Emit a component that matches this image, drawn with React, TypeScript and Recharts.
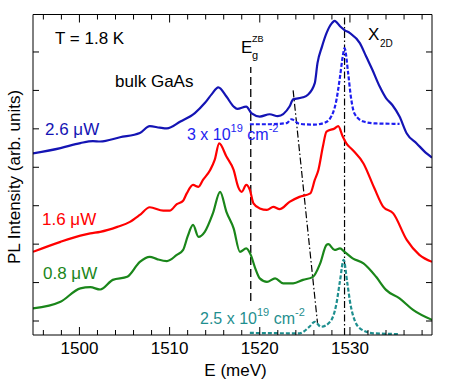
import { LineChart, Line, XAxis, YAxis, ReferenceLine } from 'recharts'

const FONT = '"Liberation Sans", Arial, Helvetica, sans-serif'

// photon energy (meV) and PL intensity (arb. units, spectra offset vertically)
const blueE = [1494.85, 1497.9, 1500.1, 1501.5, 1502.3, 1504.5, 1506.7, 1507.8, 1508.9, 1509.7, 1511.2, 1512.8, 1513.9, 1514.7, 1515.4, 1516.3, 1517.1, 1517.5, 1518.5, 1519.1, 1520.0, 1521.1, 1522.0, 1523.3, 1523.7, 1524.8, 1525.3, 1526.1, 1526.4, 1526.9, 1527.4, 1528.0, 1528.3, 1528.9, 1529.4, 1530.0, 1531.1, 1531.8, 1532.5, 1533.3, 1534.0, 1534.7, 1535.5, 1536.3, 1537.4, 1538.5, 1539.1]
const blueI = [4.36, 4.5, 4.63, 4.68, 4.67, 4.78, 4.89, 5.07, 5.03, 5.01, 5.19, 5.41, 5.67, 5.91, 6.08, 5.84, 5.58, 5.52, 5.58, 5.4, 5.32, 5.38, 5.33, 5.58, 5.77, 5.82, 5.88, 6.19, 6.71, 7.14, 7.49, 7.75, 7.81, 7.67, 7.57, 7.49, 7.23, 6.88, 6.53, 6.1, 5.8, 5.62, 5.32, 4.88, 4.62, 4.36, 4.25]

const blueDotE = [1518.9, 1521.1, 1523.0, 1523.5, 1524.4, 1526.1, 1527.2, 1527.8, 1528.5, 1528.9, 1529.2, 1529.4, 1529.8, 1530.1, 1530.5, 1531.5, 1532.9, 1535.5]
const blueDotI = [5.12, 5.12, 5.15, 5.25, 5.13, 5.11, 5.16, 5.27, 5.75, 6.36, 6.88, 7.1, 6.45, 5.84, 5.4, 5.19, 5.14, 5.13]

const redE = [1494.85, 1497.9, 1500.1, 1501.2, 1502.3, 1504.2, 1505.6, 1506.7, 1507.8, 1509.3, 1510.0, 1510.8, 1511.5, 1511.9, 1512.6, 1513.2, 1513.7, 1514.5, 1515.0, 1515.5, 1516.3, 1517.1, 1517.6, 1518.0, 1518.5, 1518.9, 1519.3, 1520.0, 1520.8, 1521.5, 1522.2, 1523.3, 1524.4, 1525.6, 1526.1, 1526.5, 1527.0, 1527.4, 1528.3, 1528.7, 1529.2, 1529.6, 1530.3, 1531.5, 1532.7, 1533.7, 1534.8, 1536.3, 1537.7, 1539.1]
const redI = [1.8, 2.06, 2.22, 2.28, 2.32, 2.45, 2.58, 2.76, 2.96, 2.87, 2.87, 3.04, 3.13, 3.32, 3.54, 3.49, 3.67, 3.93, 4.19, 4.62, 4.28, 3.93, 3.49, 3.36, 3.54, 3.41, 3.06, 2.93, 2.89, 2.97, 2.91, 3.1, 3.23, 3.32, 3.67, 3.93, 4.54, 4.93, 5.01, 5.07, 4.8, 4.62, 4.45, 4.1, 3.46, 2.97, 2.8, 2.11, 1.72, 1.54]

const greenE = [1494.85, 1497.9, 1500.1, 1501.2, 1502.3, 1503.7, 1505.3, 1506.7, 1507.8, 1508.6, 1509.7, 1510.8, 1511.5, 1512.0, 1512.6, 1513.2, 1513.9, 1514.8, 1515.6, 1516.3, 1517.1, 1517.8, 1518.5, 1519.0, 1519.5, 1520.0, 1520.8, 1521.7, 1522.6, 1523.7, 1524.8, 1525.9, 1526.7, 1527.4, 1527.6, 1528.3, 1528.9, 1529.4, 1530.3, 1531.5, 1532.9, 1534.0, 1535.5, 1537.0, 1539.1]
const greenI = [0.33, 0.5, 0.85, 0.88, 0.82, 1.07, 1.15, 1.54, 1.67, 1.61, 1.56, 1.72, 1.85, 2.2, 2.5, 2.19, 2.32, 2.8, 3.36, 2.84, 2.41, 1.8, 1.89, 1.72, 1.37, 1.11, 1.02, 1.11, 0.98, 0.98, 1.07, 1.15, 1.5, 1.98, 2.0, 1.85, 1.89, 1.8, 1.63, 1.5, 1.15, 0.81, 0.59, 0.29, 0.03]

const tealE = [1518.9, 1524.4, 1525.5, 1526.1, 1526.8, 1527.8, 1528.5, 1528.9, 1529.3, 1529.7, 1530.1, 1531.1, 1532.6, 1535.5]
const tealI = [-0.31, -0.32, -0.15, -0.02, -0.15, -0.02, 0.45, 1.05, 1.59, 1.0, 0.38, -0.19, -0.32, -0.34]

const xTicks = [1496, 1498, 1500, 1502, 1504, 1506, 1508, 1510, 1512, 1514, 1516, 1518, 1520, 1522, 1524, 1526, 1528, 1530, 1532, 1534, 1536, 1538]
const yTicks = [0, 1, 2, 3, 4, 5, 6, 7]
const xDomain = [1494.85, 1539.1]
const yDomain = [-0.364, 7.975]

// guide lines
const egZB = 1519
const egRange = [0.52, 6.61]
const x2D = 1529.4
const shiftTop = { x: 1523.7, y: 6.0 }
const shiftBottom = { x: 1526.4, y: -0.05 }

const pts = (e: number[], v: number[]) => e.map((x, i) => ({ e: x, v: v[i] }))

const BLUE = '#1414b4'
const BLUE_DOT = '#1e1ef0'
const RED = '#ff0000'
const GREEN = '#1a861a'
const TEAL = '#1f8f8f'

function BottomTick(props: any) {
  const { x, y, payload } = props
  const major = payload.value % 10 === 0
  return (
    <g>
      <line x1={x} x2={x} y1={y} y2={y - (major ? 8 : 5)} stroke="#000" />
      {major && (
        <text x={x} y={y + 19} textAnchor="middle" fontSize={17} fontFamily={FONT} fill="#000">
          {payload.value}
        </text>
      )}
    </g>
  )
}

function TopTick(props: any) {
  const { x, y, payload } = props
  const major = payload.value % 10 === 0
  return <line x1={x} x2={x} y1={y} y2={y + (major ? 8 : 5)} stroke="#000" />
}

function LeftTick(props: any) {
  const { x, y } = props
  return <line x1={x} x2={x + 6} y1={y} y2={y} stroke="#000" />
}

function RightTick(props: any) {
  const { x, y } = props
  return <line x1={x} x2={x - 6} y1={y} y2={y} stroke="#000" />
}

export default function App() {
  const lineProps = { xAxisId: 'x', yAxisId: 'y', dataKey: 'v', type: 'monotone' as const, dot: false, isAnimationActive: false }
  const axisCommon = { tickSize: 0, tickMargin: 0, tickLine: false, axisLine: { stroke: '#000' }, interval: 0 as const, allowDataOverflow: true }
  return (
    <div style={{ position: 'relative', width: 463, height: 381, fontFamily: FONT }}>
      <style>{'body{margin:0}'}</style>
      <LineChart width={463} height={381} margin={{ top: 13.5, right: 30, bottom: 45, left: 32 }}>
        <XAxis xAxisId="x" type="number" dataKey="e" domain={xDomain} ticks={xTicks} height={1} {...axisCommon} tick={<BottomTick />} />
        <XAxis xAxisId="t" orientation="top" type="number" dataKey="e" domain={xDomain} ticks={xTicks} height={1} {...axisCommon} tick={<TopTick />} />
        <YAxis yAxisId="y" type="number" domain={yDomain} ticks={yTicks} width={1} {...axisCommon} tick={<LeftTick />} />
        <YAxis yAxisId="r" orientation="right" type="number" domain={yDomain} ticks={yTicks} width={1} {...axisCommon} tick={<RightTick />} />

        <ReferenceLine xAxisId="x" yAxisId="y" segment={[{ x: egZB, y: egRange[0] }, { x: egZB, y: egRange[1] }]}
          stroke="#000" strokeWidth={1.3} strokeDasharray="8 4" />
        <ReferenceLine xAxisId="x" yAxisId="y" x={x2D} stroke="#000" strokeWidth={1.2} strokeDasharray="7 2.5 1.5 2.5" />
        <ReferenceLine xAxisId="x" yAxisId="y" segment={[shiftTop, shiftBottom]}
          stroke="#000" strokeWidth={1.2} strokeDasharray="7 2.5 1.5 2.5" />

        <Line {...lineProps} data={pts(blueE, blueI)} stroke={BLUE} strokeWidth={2.2} />
        <Line {...lineProps} data={pts(blueDotE, blueDotI)} stroke={BLUE_DOT} strokeWidth={2.2} strokeDasharray="4 2" />
        <Line {...lineProps} data={pts(redE, redI)} stroke={RED} strokeWidth={2.2} />
        <Line {...lineProps} data={pts(greenE, greenI)} stroke={GREEN} strokeWidth={2.2} />
        <Line {...lineProps} data={pts(tealE, tealI)} stroke={TEAL} strokeWidth={2.2} strokeDasharray="4 2" />
      </LineChart>

      <svg width={463} height={381} style={{ position: 'absolute', left: 0, top: 0, pointerEvents: 'none' }} fontFamily={FONT}>
        <text x={55} y={44} fontSize={17} fill="#000">T = 1.8 K</text>
        <text x={115} y={87} fontSize={17} fill="#000">bulk GaAs</text>
        <text x={45} y={135} fontSize={17} fill={BLUE}>2.6 μW</text>
        <text x={42} y={225} fontSize={17} fill={RED}>1.6 μW</text>
        <text x={43} y={279} fontSize={17} fill={GREEN}>0.8 μW</text>
        <text x={187} y={140} fontSize={16} fill={BLUE_DOT}>
          3 x 10<tspan fontSize={11} dy={-8}>19</tspan>
          <tspan fontSize={16} dy={8}> cm</tspan>
          <tspan fontSize={11} dy={-8}>-2</tspan>
        </text>
        <text x={200} y={324} fontSize={16} fill={TEAL}>
          2.5 x 10<tspan fontSize={11} dy={-8}>19</tspan>
          <tspan fontSize={16} dy={8}> cm</tspan>
          <tspan fontSize={11} dy={-8}>-2</tspan>
        </text>
        <text x={241} y={53} fontSize={17} fill="#000">E</text>
        <text x={252} y={42} fontSize={9} fill="#000">ZB</text>
        <text x={252} y={59} fontSize={11} fill="#000">g</text>
        <text x={368} y={40} fontSize={17} fill="#000">X</text>
        <text x={380} y={47} fontSize={10} fill="#000">2D</text>
        <text x={235.5} y={376} fontSize={17} textAnchor="middle" fill="#000">E (meV)</text>
        <text transform="translate(19.5,177) rotate(-90)" fontSize={17} textAnchor="middle" fill="#000">
          PL Intensity (arb. units)
        </text>
      </svg>
    </div>
  )
}
